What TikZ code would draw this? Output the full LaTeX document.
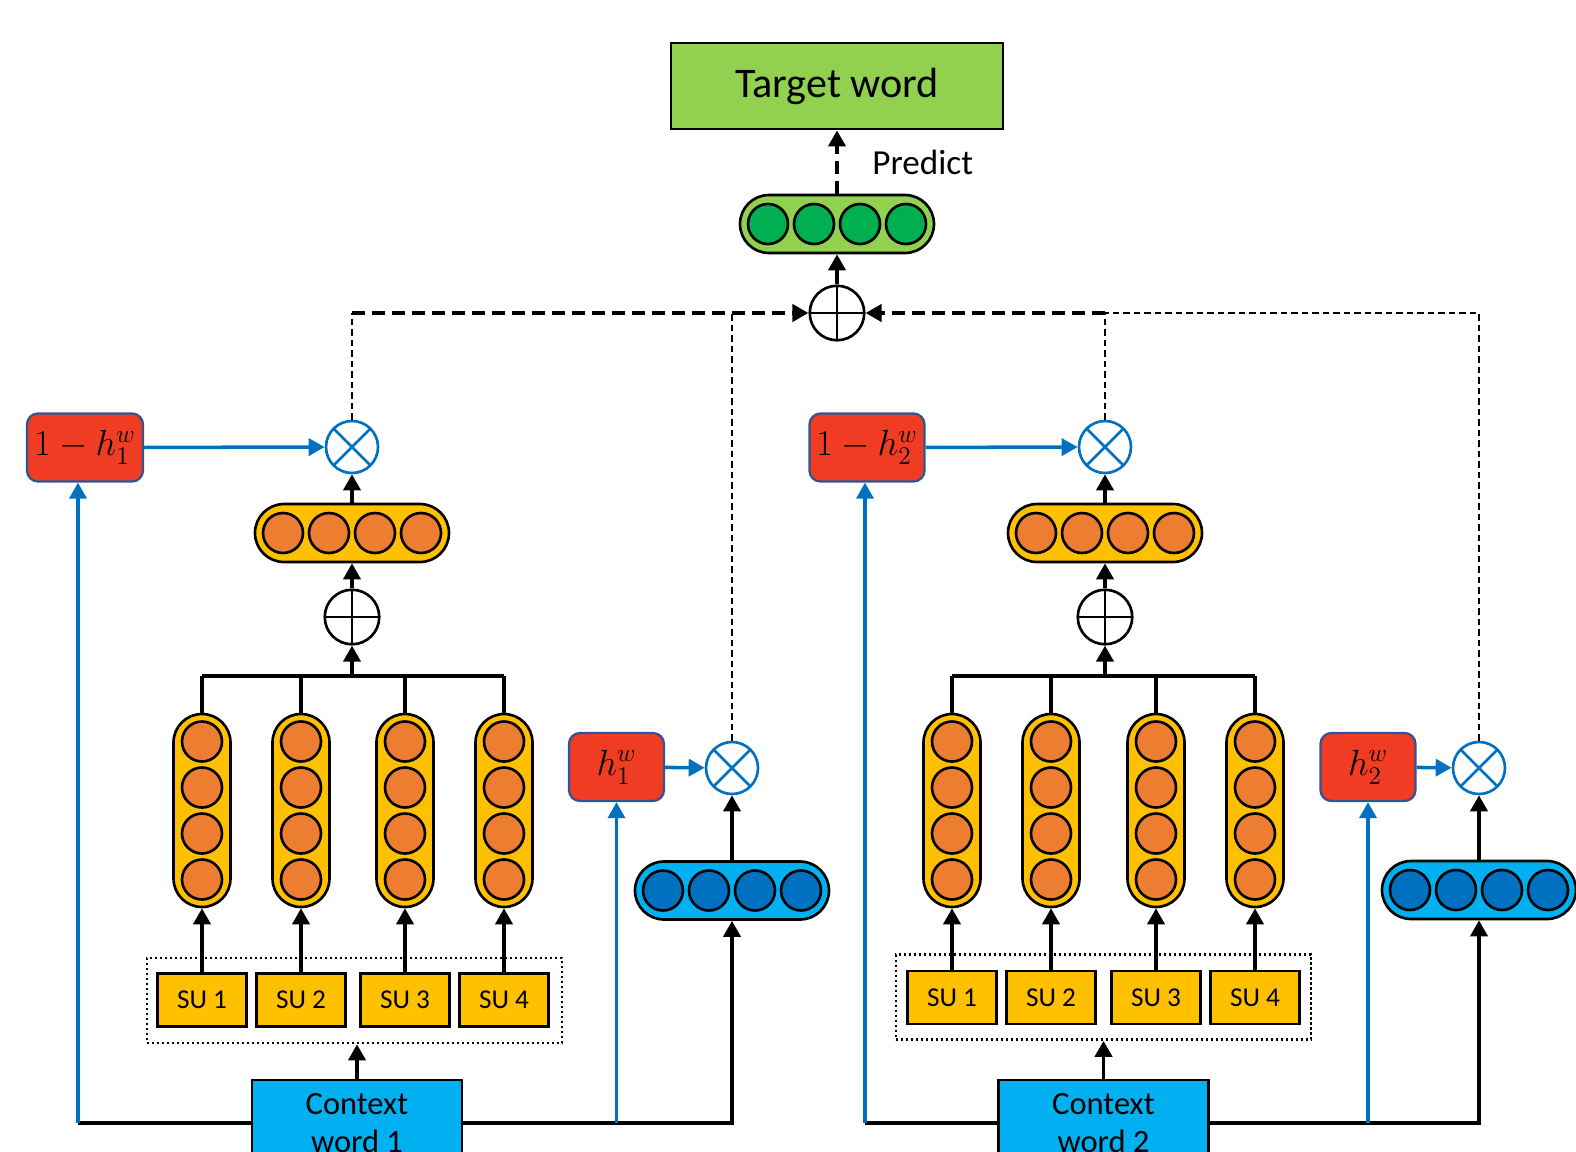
\documentclass[tikz,border=0pt]{standalone}
\usepackage{fontspec}
\setmainfont{Carlito}
\usetikzlibrary{arrows.meta,positioning}
\definecolor{leafgreen}{HTML}{92D050}
\definecolor{darkgreen}{HTML}{00B050}
\definecolor{amber}{HTML}{FFC000}
\definecolor{pumpkin}{HTML}{ED7D31}
\definecolor{skyblue}{HTML}{00B0F0}
\definecolor{seablue}{HTML}{0070C0}
\definecolor{gatered}{HTML}{F03C22}
\definecolor{gateedge}{HTML}{2F5597}
\tikzset{
  hvec/.style 2 args={ % horizontal vector of four units
    draw, line width=1.5pt, fill=#1, rectangle, rounded corners=5.8mm,
    minimum width=38.8mm, minimum height=11.6mm, inner sep=0pt,
    path picture={
      \foreach \d in {-13.8,-4.6,4.6,13.8}
        \draw[line width=1.5pt, fill=#2]
          ([xshift=\d mm]path picture bounding box.center) circle (4mm);
    }
  },
  vvec/.style 2 args={ % vertical vector of four units
    draw, line width=1.5pt, fill=#1, rectangle, rounded corners=5.7mm,
    minimum width=11.4mm, minimum height=38.6mm, inner sep=0pt,
    path picture={
      \foreach \d in {-13.8,-4.6,4.6,13.8}
        \draw[line width=1.5pt, fill=#2]
          ([yshift=\d mm]path picture bounding box.center) circle (4mm);
    }
  },
  plus/.style={ % sum
    draw, circle, minimum size=10.9mm, line width=1.5pt, inner sep=0pt,
    path picture={
      \draw[line width=1.5pt]
      (path picture bounding box.north) -- (path picture bounding box.south)
      (path picture bounding box.west) -- (path picture bounding box.east);
    }
  },
  times/.style={ % product
    draw=seablue, circle, minimum size=10.4mm, line width=1.5pt, inner sep=0pt,
    path picture={
      \draw[seablue, line width=1.5pt]
      (path picture bounding box.north west) -- (path picture bounding box.south east)
      (path picture bounding box.south west) -- (path picture bounding box.north east);
    }
  },
  gate/.style={
    draw=gateedge, fill=gatered, line width=1.3pt, rounded corners=2.2mm,
    minimum height=13.6mm, inner sep=0pt, font=\fontsize{20}{24}\selectfont
  },
  subox/.style={
    draw, fill=amber, line width=1.5pt, minimum width=17.8mm,
    minimum height=10.6mm, inner sep=0pt, font=\fontsize{15.5}{18}\selectfont
  },
  ctxbox/.style={
    draw, fill=skyblue, line width=1.5pt, minimum width=42mm, minimum height=17.2mm,
    align=center, inner sep=0pt, font=\fontsize{18.5}{21.6}\selectfont
  },
  subgroup/.style={
    draw, line width=1.5pt, dash pattern=on 0.45mm off 0.55mm,
    minimum width=83mm, minimum height=17mm
  },
  arr/.style={->, line width=2.2pt},
  bluearr/.style={->, draw=seablue, line width=2pt},
  wire/.style={line width=1.8pt},
  thindash/.style={line width=1.2pt, dash pattern=on 1.3mm off 0.8mm},
  thickdash/.style={line width=2.4pt, dash pattern=on 2.6mm off 1.4mm}
}
\begin{document}
\begin{tikzpicture}[x=0.2mm, y=-0.2mm, >={Triangle[length=3.2mm,width=3.4mm]}]
  \useasboundingbox (0,0) rectangle (1576,1151);
  \clip (0,0) rectangle (1576,1151);

  % output
  \node[draw, fill=leafgreen, line width=1.6pt, minimum width=66.4mm,
    minimum height=17.2mm, font=\fontsize{24}{28}\selectfont] (target) at (837,86) {Target word};
  \node[hvec={leafgreen}{darkgreen}] (out) at (837,224) {};
  \node[plus] (sumtop) at (837,313) {};
  \draw[arr, thickdash] (out.north) -- (target.south)
    node[midway, right=5.5mm, font=\fontsize{20}{23}\selectfont] (predict) {Predict};
  \draw[arr] (sumtop) -- (out);

  % context word 1
  \node[gate, minimum width=23.2mm] (gate1) at (85,447.5) {$1-h_1^w$};
  \node[times] (mul1) at (352,447) {};
  \node[hvec={amber}{pumpkin}] (hv1) at (352,533) {};
  \node[plus] (sum1) at (352,617) {};
  \coordinate (bus1) at (352,676);
  \node[subgroup] (grp1) at (354.5,1000.5) {};
  \foreach \n/\x in {1/202,2/301,3/405,4/504} {
    \node[vvec={amber}{pumpkin}] (emb1\n) at (\x,810.5) {};
    \node[subox] (su1\n) at (\x,1000) {SU \n};
    \draw[arr] (su1\n) -- (emb1\n);
    \draw[wire] (emb1\n) -- (emb1\n.north |- bus1);
  }
  \draw[wire] (emb11.north |- bus1) -- (emb14.north |- bus1);
  \draw[arr] (bus1) -- (sum1);
  \draw[arr] (sum1) -- (hv1);
  \draw[arr] (hv1) -- (mul1);
  \draw[bluearr] (gate1) -- (mul1);
  \node[ctxbox] (ctx1) at (357,1123) {Context\\word 1};
  \draw[arr] (ctx1.north) -- (ctx1.north |- grp1.south);
  \node[gate, minimum width=19mm] (hg1) at (616.5,767) {$h_1^w$};
  \node[times] (mulw1) at (732,768) {};
  \node[hvec={skyblue}{seablue}] (wvec1) at (732,890.5) {};
  \draw[bluearr] (hg1) -- (mulw1);
  \draw[arr] (wvec1) -- (mulw1);
  \coordinate (left1) at (78,1123);
  \draw[wire] (ctx1.west) -- (left1);
  \draw[bluearr] (left1) -- (left1 |- gate1.south);
  \draw[arr] (ctx1.east) -| (wvec1.south);
  \draw[bluearr] (ctx1.east -| hg1.south) -- (hg1.south);

  % context word 2
  \node[gate, minimum width=23mm] (gate2) at (867,447.5) {$1-h_2^w$};
  \node[times] (mul2) at (1105,447) {};
  \node[hvec={amber}{pumpkin}] (hv2) at (1105,533) {};
  \node[plus] (sum2) at (1105,617) {};
  \coordinate (bus2) at (1105,676);
  \node[subgroup] (grp2) at (1103.5,997) {};
  \foreach \n/\x in {1/952,2/1051,3/1156,4/1255} {
    \node[vvec={amber}{pumpkin}] (emb2\n) at (\x,810.5) {};
    \node[subox] (su2\n) at (\x,997.5) {SU \n};
    \draw[arr] (su2\n) -- (emb2\n);
    \draw[wire] (emb2\n) -- (emb2\n.north |- bus2);
  }
  \draw[wire] (emb21.north |- bus2) -- (emb24.north |- bus2);
  \draw[arr] (bus2) -- (sum2);
  \draw[arr] (sum2) -- (hv2);
  \draw[arr] (hv2) -- (mul2);
  \draw[bluearr] (gate2) -- (mul2);
  \node[ctxbox] (ctx2) at (1103.5,1123) {Context\\word 2};
  \draw[arr] (ctx2.north) -- (ctx2.north |- grp2.south);
  \node[gate, minimum width=19mm] (hg2) at (1368,767) {$h_2^w$};
  \node[times] (mulw2) at (1479,768) {};
  \node[hvec={skyblue}{seablue}] (wvec2) at (1479,890) {};
  \draw[bluearr] (hg2) -- (mulw2);
  \draw[arr] (wvec2) -- (mulw2);
  \coordinate (left2) at (865,1123);
  \draw[wire] (ctx2.west) -- (left2);
  \draw[bluearr] (left2) -- (left2 |- gate2.south);
  \draw[arr] (ctx2.east) -| (wvec2.south);
  \draw[bluearr] (ctx2.east -| hg2.south) -- (hg2.south);

  % gated sum
  \coordinate (top1) at (352,313);
  \coordinate (top2) at (1105,313);
  \draw[thindash] (mul1.north) -- (top1);
  \draw[thindash] (mulw1.north) -- (mulw1.north |- top1);
  \draw[arr, thickdash] (top1) -- (sumtop.west);
  \draw[thindash] (mul2.north) -- (top2);
  \draw[thindash] (mulw2.north) |- (top2);
  \draw[arr, thickdash] (top2) -- (sumtop.east);
\end{tikzpicture}
\end{document}
